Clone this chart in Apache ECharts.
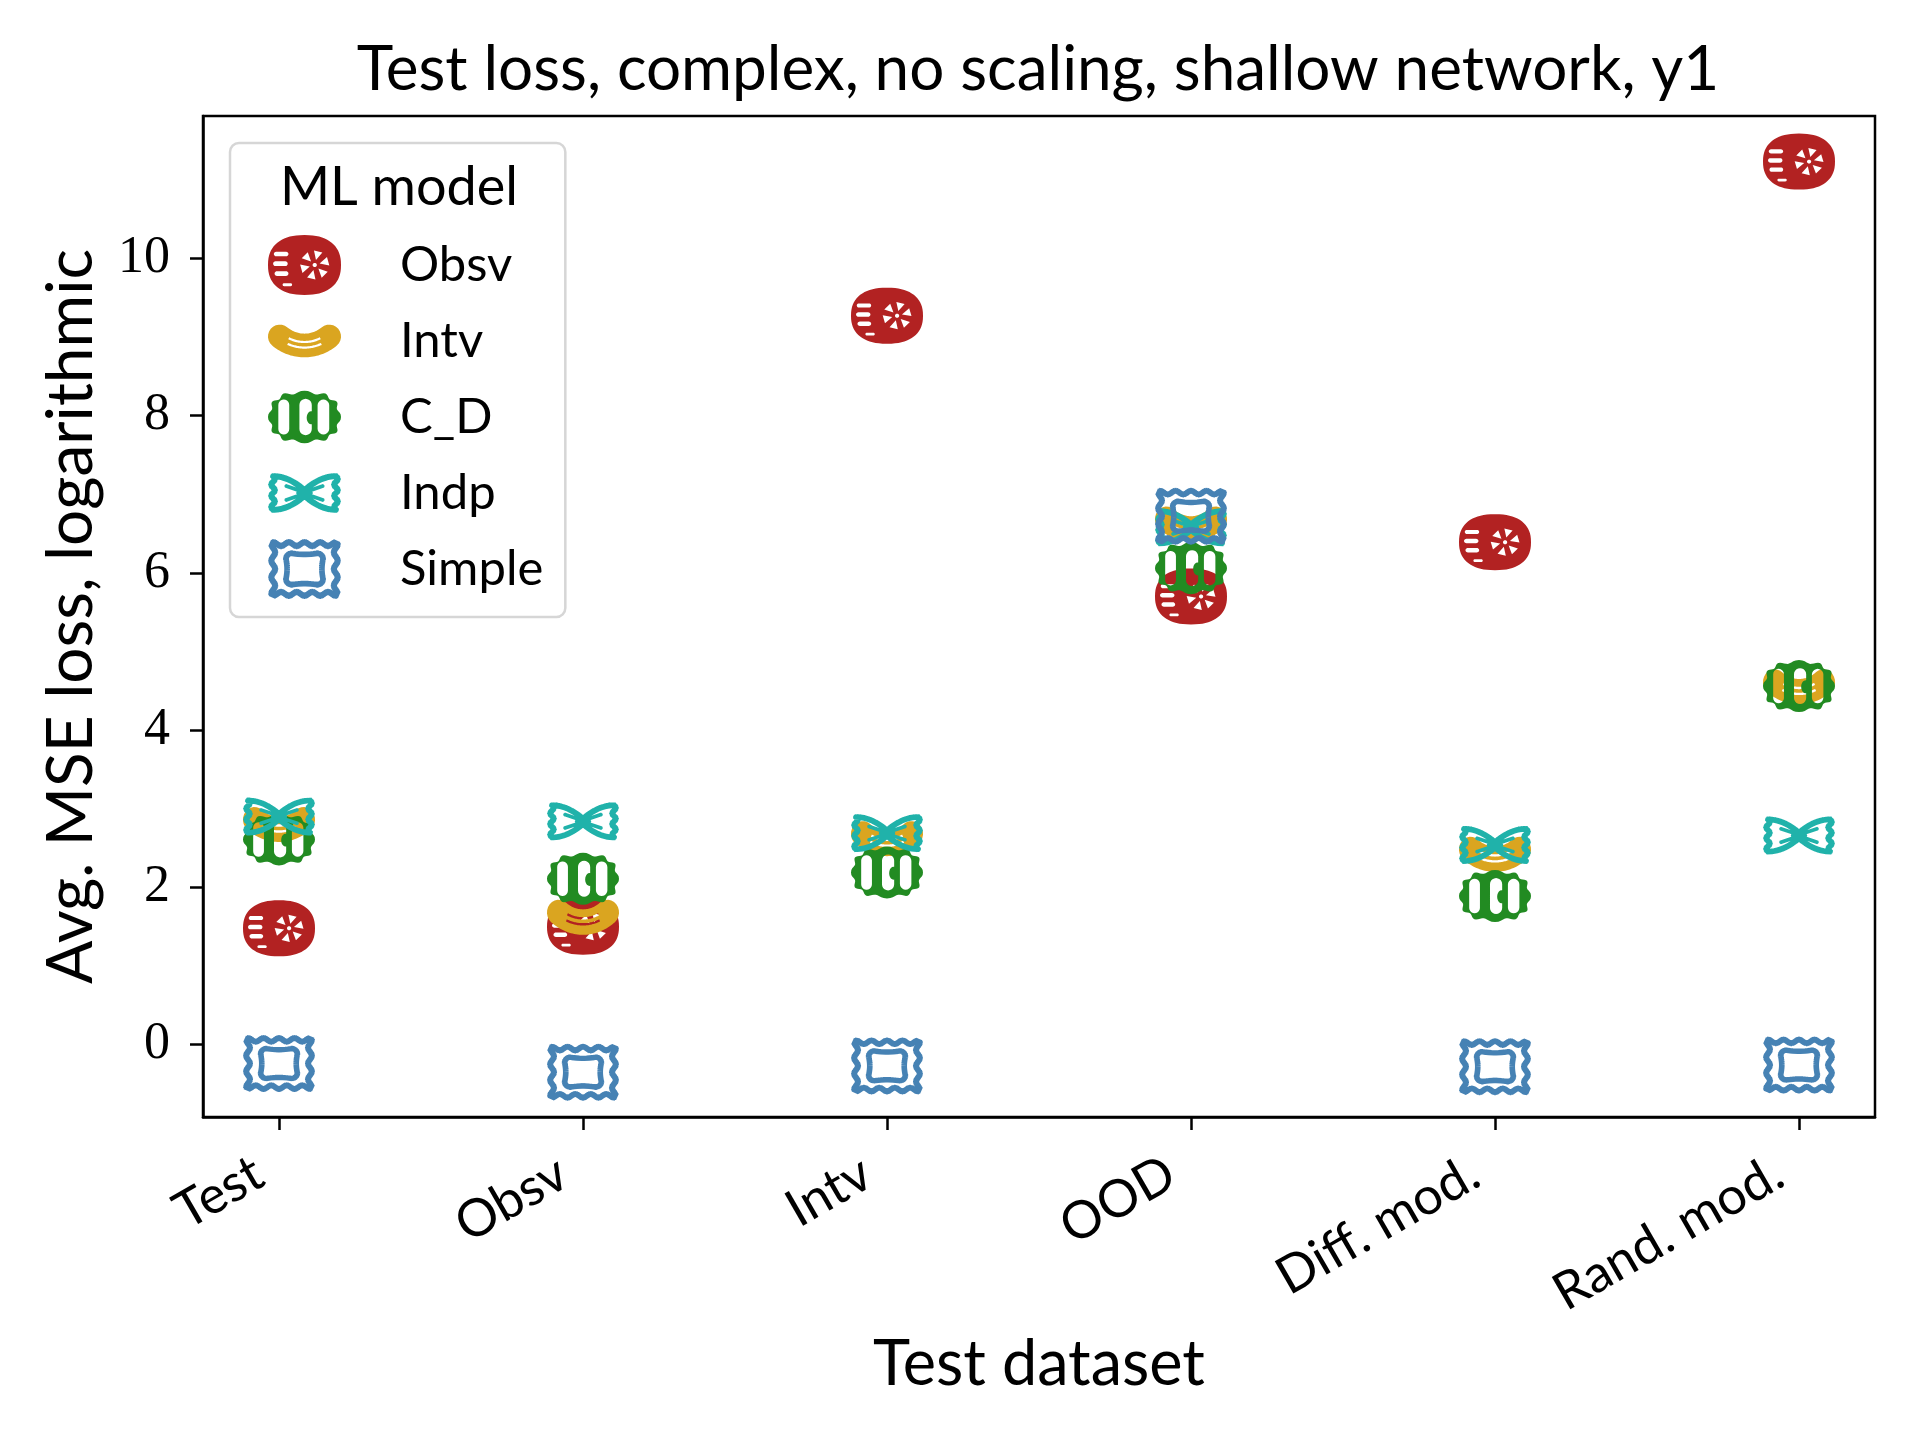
<!DOCTYPE html>
<html>
<head>
<meta charset="utf-8">
<script src="https://cdn.jsdelivr.net/npm/echarts@6/dist/echarts.min.js"></script>
<style>html,body{margin:0;padding:0;background:#fff}#c{width:1920px;height:1440px}</style>
</head>
<body>
<div id="c"></div>
<script>
// ---------------- data ----------------
const categories = ['Test', 'Obsv', 'Intv', 'OOD', 'Diff. mod.', 'Rand. mod.'];
const modelNames = ['Obsv', 'Intv', 'C_D', 'Indp', 'Simple'];
const obsvVals   = [1.48, 1.50, 9.27, 5.70, 6.39, 11.23];
const intvVals   = [2.80, 1.62, 2.62, 6.62, 2.42, 4.55];
const cdVals     = [2.61, 2.11, 2.19, 6.06, 1.89, 4.56];
const indpVals   = [2.90, 2.84, 2.69, 6.58, 2.54, 2.66];
const simpleVals = [-0.24, -0.35, -0.27, 6.72, -0.28, -0.26];
const yTickValues = [0, 2, 4, 6, 8, 10];
const title = 'Test loss, complex, no scaling, shallow network, y1';
const xName = 'Test dataset';
const yName = 'Avg. MSE loss, logarithmic';
const legendTitle = 'ML model';

// ---------------- glyph helpers (marker shapes only) ----------------
function P(pts, hole) {
  let a = 0;
  for (let i = 0; i < pts.length; i++) {
    const p = pts[i], q = pts[(i + 1) % pts.length];
    a += p[0] * q[1] - q[0] * p[1];
  }
  if ((a > 0) === !!hole) pts = pts.slice().reverse();
  return 'M' + pts.map(p => p[0].toFixed(2) + ' ' + p[1].toFixed(2)).join('L') + 'Z';
}
function ellipsePts(cx, cy, rx, ry, n) {
  const pts = [];
  for (let i = 0; i < n; i++) { const t = 2 * Math.PI * i / n; pts.push([cx + rx * Math.cos(t), cy + ry * Math.sin(t)]); }
  return pts;
}
function superPts(cx, cy, rx, ry, e, n, wob) {
  const pts = [];
  for (let i = 0; i < n; i++) {
    const t = 2 * Math.PI * i / n, c = Math.cos(t), s = Math.sin(t);
    const w = wob ? wob(t) : 0;
    pts.push([cx + (rx + w) * Math.sign(c) * Math.pow(Math.abs(c), e), cy + (ry + w) * Math.sign(s) * Math.pow(Math.abs(s), e)]);
  }
  return pts;
}
function capsulePts(x1, y1, x2, y2) {
  const w = x2 - x1, h = y2 - y1, pts = [], k = 10;
  if (h >= w) {
    const r = w / 2, cx = x1 + r;
    for (let i = 0; i <= k; i++) { const a = Math.PI + Math.PI * i / k; pts.push([cx + r * Math.cos(a), y1 + r + r * Math.sin(a)]); }
    for (let i = 0; i <= k; i++) { const a = Math.PI * i / k; pts.push([cx + r * Math.cos(a), y2 - r + r * Math.sin(a)]); }
  } else {
    const r = h / 2, cy = y1 + r;
    for (let i = 0; i <= k; i++) { const a = -Math.PI / 2 + Math.PI * i / k; pts.push([x2 - r + r * Math.cos(a), cy + r * Math.sin(a)]); }
    for (let i = 0; i <= k; i++) { const a = Math.PI / 2 + Math.PI * i / k; pts.push([x1 + r + r * Math.cos(a), cy + r * Math.sin(a)]); }
  }
  return pts;
}
function strokeLine(pts, w, closed) {
  let s = '';
  const n = pts.length, m = closed ? n : n - 1;
  const dirs = [];
  for (let i = 0; i < m; i++) {
    const p = pts[i], q = pts[(i + 1) % n];
    let dx = q[0] - p[0], dy = q[1] - p[1];
    const L = Math.hypot(dx, dy) || 1; dx /= L; dy /= L; dirs.push([dx, dy]);
    const e = w * 0.25, nx = -dy * w / 2, ny = dx * w / 2;
    const a = [p[0] - dx * e, p[1] - dy * e], b = [q[0] + dx * e, q[1] + dy * e];
    s += P([[a[0] + nx, a[1] + ny], [b[0] + nx, b[1] + ny], [b[0] - nx, b[1] - ny], [a[0] - nx, a[1] - ny]], false);
  }
  for (let i = 0; i < n; i++) {
    let need = false;
    if (!closed && (i === 0 || i === n - 1)) need = true;
    else {
      const d1 = dirs[(i - 1 + m) % m], d2 = dirs[i % m];
      if (d1 && d2 && (d1[0] * d2[0] + d1[1] * d2[1]) < 0.93) need = true;
    }
    if (need) s += P(ellipsePts(pts[i][0], pts[i][1], w / 2, w / 2, 10), false);
  }
  return s;
}

// Obsv: wagon wheel
const gObsv = (() => {
  let s = P(superPts(50, 41, 50, 41, 0.85, 72), false);
  [[8, 23, 28, 29], [7, 36, 27, 42.5], [9, 49.5, 28, 56]].forEach(r => s += P(capsulePts(r[0], r[1], r[2], r[3]), true));
  s += P(capsulePts(20, 66, 33, 70), true);
  for (let k = 0; k < 6; k++) {
    const a = -Math.PI / 2 + k * Math.PI / 3 + 0.25, r1 = 7, r2 = 20, da = 0.3;
    s += P([[64 + r1 * Math.cos(a), 41 + r1 * Math.sin(a)], [64 + r2 * Math.cos(a - da), 41 + r2 * Math.sin(a - da)], [64 + r2 * Math.cos(a + da), 41 + r2 * Math.sin(a + da)]], true);
  }
  s += P(ellipsePts(64, 41, 3, 3, 10), true);
  return 'path://' + s;
})();

// Intv: elbow macaroni
function tubePts(cx, cy, R, h, phi0, caps) {
  const pts = [], n = 40;
  for (let i = 0; i <= n; i++) { const f = -phi0 + 2 * phi0 * i / n; pts.push([cx + (R + h) * Math.sin(f), cy + (R + h) * Math.cos(f)]); }
  if (caps) {
    const ex = cx + R * Math.sin(phi0), ey = cy + R * Math.cos(phi0);
    const base = Math.atan2(Math.cos(phi0), Math.sin(phi0));
    for (let i = 1; i < 12; i++) { const a = base - Math.PI * i / 12; pts.push([ex + h * Math.cos(a), ey + h * Math.sin(a)]); }
  }
  for (let i = 0; i <= n; i++) { const f = phi0 - 2 * phi0 * i / n; pts.push([cx + (R - h) * Math.sin(f), cy + (R - h) * Math.cos(f)]); }
  if (caps) {
    const ex = cx - R * Math.sin(phi0), ey = cy + R * Math.cos(phi0);
    const base = Math.atan2(-Math.cos(phi0), Math.sin(phi0));
    for (let i = 1; i < 12; i++) { const a = base - Math.PI * i / 12; pts.push([ex + h * Math.cos(a), ey + h * Math.sin(a)]); }
  }
  return pts;
}
const gIntv = (() => {
  let s = P(tubePts(50, -25, 55, 17, 0.7, true), false);
  s += P(tubePts(50, -25, 50, 1.6, 0.47, false), true);
  s += P(tubePts(50, -25, 58, 1.6, 0.43, false), true);
  return 'path://' + s;
})();

// C_D
const gCD = (() => {
  let s = P(superPts(50, 36, 48, 34, 0.8, 120, t => 2.2 * Math.cos(12 * t)), false);
  s += P(capsulePts(14, 12, 29, 60), true);
  s += P(capsulePts(43, 11, 60, 61), true);
  s += P(capsulePts(68, 12, 84, 60), true);
  s += P(ellipsePts(59, 37, 6, 9, 20), false);
  return 'path://' + s;
})();

// Indp: bow tie
const gIndp = (() => {
  const pts = [], N = 24;
  for (let i = 0; i < N; i++) { const u = -1 + 2 * i / N; pts.push([50 + 45 * u, 5 + 20 * Math.pow(1 - Math.abs(u), 2)]); }
  for (let i = 0; i < N; i++) { const t = i / N; pts.push([95 + 2.5 * Math.sin(2 * Math.PI * 3 * t), 5 + 48 * t]); }
  for (let i = 0; i < N; i++) { const u = 1 - 2 * i / N; pts.push([50 + 45 * u, 53 - 20 * Math.pow(1 - Math.abs(u), 2)]); }
  for (let i = 0; i < N; i++) { const t = i / N; pts.push([5 - 2.5 * Math.sin(2 * Math.PI * 3 * t), 53 - 48 * t]); }
  let s = strokeLine(pts, 8.5, true);
  s += strokeLine([[24, 19], [50, 28], [76, 19]], 5.5, false);
  s += strokeLine([[24, 39], [50, 30], [76, 39]], 5.5, false);
  s += P(ellipsePts(50, 29, 12, 5, 20), false);
  return 'path://' + s;
})();

// Simple: ravioli
const gSimple = (() => {
  const pts = [], x0 = 6, y0 = 6, W = 88, H = 70, a = 2.6;
  const Nt = 40, Ns = 30;
  for (let i = 0; i < Nt; i++) { const t = i / Nt; pts.push([x0 + W * t, y0 - a * Math.cos(2 * Math.PI * 4 * t)]); }
  for (let i = 0; i < Ns; i++) { const t = i / Ns; pts.push([x0 + W + a * Math.cos(2 * Math.PI * 3 * t), y0 + H * t]); }
  for (let i = 0; i < Nt; i++) { const t = i / Nt; pts.push([x0 + W - W * t, y0 + H + a * Math.cos(2 * Math.PI * 4 * t)]); }
  for (let i = 0; i < Ns; i++) { const t = i / Ns; pts.push([x0 - a * Math.cos(2 * Math.PI * 3 * t), y0 + H - H * t]); }
  let s = strokeLine(pts, 8.5, true);
  const ip = [], L = 24, R = 76, T = 19, B = 63, r = 8, k = 6, bow = 1.5, M = 10;
  const corner = (cx, cy, a0) => { for (let i = 0; i <= k; i++) { const aa = a0 + (Math.PI / 2) * i / k; ip.push([cx + r * Math.cos(aa), cy + r * Math.sin(aa)]); } };
  corner(L + r, T + r, Math.PI);
  for (let i = 1; i < M; i++) { const t = i / M; ip.push([L + r + (R - L - 2 * r) * t, T + bow * Math.sin(Math.PI * t)]); }
  corner(R - r, T + r, -Math.PI / 2);
  for (let i = 1; i < M; i++) { const t = i / M; ip.push([R - bow * Math.sin(Math.PI * t), T + r + (B - T - 2 * r) * t]); }
  corner(R - r, B - r, 0);
  for (let i = 1; i < M; i++) { const t = i / M; ip.push([R - r - (R - L - 2 * r) * t, B - bow * Math.sin(Math.PI * t)]); }
  corner(L + r, B - r, Math.PI / 2);
  for (let i = 1; i < M; i++) { const t = i / M; ip.push([L + bow * Math.sin(Math.PI * t), B - r - (B - T - 2 * r) * t]); }
  s += strokeLine(ip, 8, true);
  return 'path://' + s;
})();

// ---------------- chart ----------------
const SANS = 'Lato, "Open Sans", "DejaVu Sans", sans-serif';
const SERIF = '"Liberation Serif", "DejaVu Serif", serif';
const seriesDefs = [
  { name: modelNames[0], vals: obsvVals,   color: '#B22222', symbol: gObsv,   size: [72, 56] },
  { name: modelNames[1], vals: intvVals,   color: '#DAA520', symbol: gIntv,   size: [72, 35] },
  { name: modelNames[2], vals: cdVals,     color: '#228B22', symbol: gCD,     size: [72, 52] },
  { name: modelNames[3], vals: indpVals,   color: '#20B2AA', symbol: gIndp,   size: [72, 38] },
  { name: modelNames[4], vals: simpleVals, color: '#4682B4', symbol: gSimple, size: [72, 57] }
];
const xTickPos = categories.map((c, i) => i);

const chart = echarts.init(document.getElementById('c'), null, { renderer: 'canvas' });
chart.setOption({
  animation: false,
  backgroundColor: '#ffffff',
  title: [
    { text: title, left: 1033, top: 34, textAlign: 'center',
      textStyle: { fontFamily: SANS, fontSize: 62, fontWeight: 'normal', color: '#000' } },
    { text: legendTitle, left: 394, top: 156, textAlign: 'center',
      textStyle: { fontFamily: SANS, fontSize: 54, fontWeight: 'normal', color: '#000' } }
  ],
  grid: { left: 203, right: 45, top: 116, bottom: 323, show: true, borderColor: '#000', borderWidth: 2.5, backgroundColor: 'transparent' },
  legend: {
    orient: 'vertical', left: 230, top: 143,
    padding: [92, 22, 18, 38],
    itemWidth: 73, itemHeight: 60, itemGap: 16,
    backgroundColor: 'rgba(255,255,255,0.85)', borderColor: '#d6d6d6', borderWidth: 2.5, borderRadius: 9,
    textStyle: { fontFamily: SANS, fontSize: 49, lineHeight: 60, color: '#000', padding: [0, 0, 0, 54] },
    data: modelNames
  },
  xAxis: {
    type: 'value', min: -0.25, max: 5.25,
    name: xName, nameLocation: 'middle', nameGap: 216,
    nameTextStyle: { fontFamily: SANS, fontSize: 63, color: '#000' },
    axisLine: { show: true, onZero: false, lineStyle: { color: '#000', width: 2.5 } },
    axisTick: { show: true, length: 13, customValues: xTickPos, lineStyle: { color: '#000', width: 2.5 } },
    axisLabel: { customValues: xTickPos, rotate: 30, margin: 41, padding: [0, 23, 0, 0],
      formatter: v => categories[Math.round(v)],
      fontFamily: SANS, fontSize: 52, color: '#000' },
    splitLine: { show: false }
  },
  yAxis: {
    type: 'value', min: -0.92, max: 11.81,
    name: yName, nameLocation: 'middle', nameGap: 100,
    nameTextStyle: { fontFamily: SANS, fontSize: 64, color: '#000' },
    axisLine: { show: true, onZero: false, lineStyle: { color: '#000', width: 2.5 } },
    axisTick: { show: true, length: 13, customValues: yTickValues, lineStyle: { color: '#000', width: 2.5 } },
    axisLabel: { customValues: yTickValues, margin: 33, fontFamily: SERIF, fontSize: 52, color: '#000' },
    splitLine: { show: false }
  },
  series: seriesDefs.map(d => ({
    type: 'scatter', name: d.name,
    data: d.vals.map((v, i) => [i, v]),
    symbol: d.symbol, symbolSize: d.size, symbolKeepAspect: false,
    itemStyle: { color: d.color, opacity: 1 },
    emphasis: { disabled: true }
  }))
});
</script>
</body>
</html>
